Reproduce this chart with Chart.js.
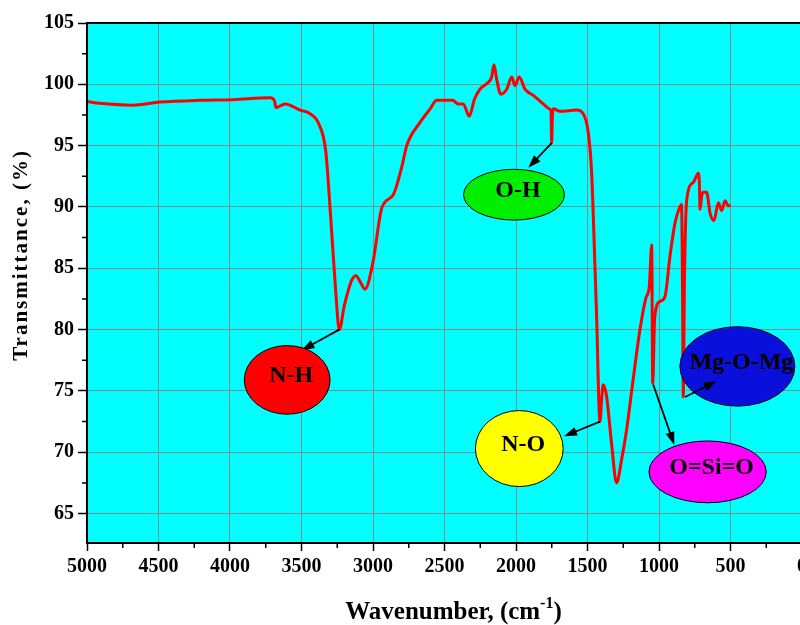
<!DOCTYPE html>
<html>
<head>
<meta charset="utf-8">
<script src="https://cdn.jsdelivr.net/npm/chart.js@4.4.1/dist/chart.umd.min.js"></script>
<style>
  html, body { margin: 0; padding: 0; background: #fff; overflow: hidden; }
  #ftir { display: block; }
</style>
</head>
<body>
<canvas id="ftir" width="830" height="625"></canvas>
<script>
// FTIR spectrum - wavenumber (cm-1) vs transmittance (%)
const wavenumber = [5000,4910,4680,4490,4210,3980,3720,3690,3678,3615,3510,3440,3380,3330,3295,3260,3236,3200,3150,3119,3085,3056,3000,2939,2858,2800,2764,2671,2600,2555,2485,2443,2404,2369,2327,2290,2252,2200,2170,2154,2135,2107,2065,2030,2007,1977,1937,1879,1809,1767,1755,1751,1745,1739,1692,1576,1530,1495,1471,1448,1437,1413,1400,1390,1367,1330,1297,1260,1227,1180,1133,1091,1068,1051,1044,1030,993,958,923,888,858,842,836,830,822,806,760,725,718,713,700,690,667,643,615,585,562,538,515,499];
const transmittance = [98.6,98.45,98.3,98.55,98.7,98.75,98.9,98.7,98.1,98.4,97.9,97.6,96.8,94.5,89.0,83.0,80.0,82.0,84.0,84.4,83.8,83.3,85.5,89.9,91.0,93.2,95.0,96.9,98.0,98.7,98.7,98.7,98.4,98.4,97.4,98.8,99.6,100.1,100.6,101.6,100.4,99.2,99.6,100.6,99.9,100.6,99.6,99.1,98.4,98.0,97.8,95.2,97.6,98.0,97.8,97.9,97.6,96.1,92.8,85.2,81.4,72.5,74.5,75.5,74.6,70.5,67.5,69.5,71.8,76.0,80.0,82.6,83.5,86.9,75.6,81.0,82.3,82.7,86.0,88.7,89.9,90.2,84.0,74.5,84.0,90.6,92.0,92.75,92.0,89.8,91.0,91.2,91.2,89.5,88.9,90.35,89.7,90.5,90.1,90.1];
const yTicks = [65, 70, 75, 80, 85, 90, 95, 100, 105];

// band labels (ellipse centre, radii in axis units, arrow from peak to ellipse)
const bandNames = ['N-H', 'O-H', 'N-O', 'O=Si=O', 'Mg-O-Mg'];
const bandColors = ['#ff0000', '#00ee00', '#ffff00', '#ff00ff', '#0a10dc'];
const bandAt = [[3600, 75.9], [2014, 91.0], [1977, 70.3], [660, 68.4], [452, 77.0]];
const bandRadius = [[300, 2.8], [353, 2.07], [307, 3.1], [410, 2.52], [402, 3.24]];
const arrowFrom = [[3236, 80.0], [1751, 95.2], [1413, 72.5], [1040, 75.5], [818, 74.5]];
const arrowTo = [[3500, 78.3], [1914, 93.2], [1664, 71.3], [893, 70.6], [597, 75.8]];

const serif = '"Liberation Serif", "Times New Roman", serif';

function arrow(ctx, x0, y0, x1, y1) {
  const ang = Math.atan2(y1 - y0, x1 - x0);
  ctx.beginPath();
  ctx.moveTo(x0, y0);
  ctx.lineTo(x1 - 8 * Math.cos(ang), y1 - 8 * Math.sin(ang));
  ctx.stroke();
  ctx.beginPath();
  ctx.moveTo(x1, y1);
  ctx.lineTo(x1 - 13 * Math.cos(ang) + 4.5 * Math.sin(ang), y1 - 13 * Math.sin(ang) - 4.5 * Math.cos(ang));
  ctx.lineTo(x1 - 13 * Math.cos(ang) - 4.5 * Math.sin(ang), y1 - 13 * Math.sin(ang) + 4.5 * Math.cos(ang));
  ctx.closePath();
  ctx.fill();
}

const decor = {
  id: 'decor',
  beforeDraw(chart) {
    const a = chart.chartArea, ctx = chart.ctx;
    ctx.save();
    ctx.fillStyle = '#00ffff';
    ctx.fillRect(a.left, a.top, a.right - a.left, a.bottom - a.top);
    ctx.restore();
  },
  afterDraw(chart) {
    const a = chart.chartArea, ctx = chart.ctx;
    const xs = chart.scales.x, ys = chart.scales.y;
    ctx.save();
    // frame
    ctx.strokeStyle = '#000';
    ctx.lineWidth = 2;
    ctx.strokeRect(a.left, a.top, a.right - a.left, a.bottom - a.top);
    // minor ticks
    ctx.lineWidth = 1.5;
    ctx.beginPath();
    for (let v = 67.5; v < 105; v += 5) {
      const py = ys.getPixelForValue(v);
      ctx.moveTo(a.left - 5, py); ctx.lineTo(a.left, py);
    }
    for (let v = 250; v < 5000; v += 500) {
      const px = xs.getPixelForValue(v);
      ctx.moveTo(px, a.bottom); ctx.lineTo(px, a.bottom + 5);
    }
    ctx.stroke();

    ctx.lineWidth = 1.8;
    ctx.fillStyle = '#000';
    const px = p => [xs.getPixelForValue(p[0]), ys.getPixelForValue(p[1])];
    for (let i = 0; i < 4; i++) {
      const [x0, y0] = px(arrowFrom[i]), [x1, y1] = px(arrowTo[i]);
      arrow(ctx, x0, y0, x1, y1);
    }

    // ellipses + labels
    for (let i = 0; i < bandNames.length; i++) {
      const [cx, cy] = px(bandAt[i]);
      const rx = Math.abs(xs.getPixelForValue(bandAt[i][0] + bandRadius[i][0]) - cx);
      const ry = Math.abs(ys.getPixelForValue(bandAt[i][1] + bandRadius[i][1]) - cy);
      ctx.beginPath();
      ctx.ellipse(cx, cy, rx, ry, 0, 0, Math.PI * 2);
      ctx.fillStyle = bandColors[i];
      ctx.fill();
      ctx.lineWidth = 1;
      ctx.strokeStyle = '#000';
      ctx.stroke();
      ctx.fillStyle = '#000';
      ctx.font = 'bold 24px ' + serif;
      ctx.textAlign = 'center';
      ctx.textBaseline = 'middle';
      ctx.fillText(bandNames[i], cx + 4, cy - 4);
    }
    // Mg-O-Mg arrow sits on top of its ellipse
    ctx.lineWidth = 1.8;
    {
      const [x0, y0] = px(arrowFrom[4]), [x1, y1] = px(arrowTo[4]);
      arrow(ctx, x0, y0, x1, y1);
    }

    // x axis title with superscript
    ctx.fillStyle = '#000';
    ctx.textBaseline = 'alphabetic';
    ctx.textAlign = 'left';
    const big = 'bold 25px ' + serif, small = 'bold 16px ' + serif;
    const t1 = 'Wavenumber, (cm', t2 = '-1', t3 = ')';
    ctx.font = big; const w1 = ctx.measureText(t1).width, w3 = ctx.measureText(t3).width;
    ctx.font = small; const w2 = ctx.measureText(t2).width;
    let tx = (a.left + a.right) / 2 + 9 - (w1 + w2 + w3) / 2;
    const ty = 619;
    ctx.font = big; ctx.fillText(t1, tx, ty); tx += w1;
    ctx.font = small; ctx.fillText(t2, tx, ty - 11); tx += w2;
    ctx.font = big; ctx.fillText(t3, tx, ty);

    // y axis title
    ctx.translate(22, 255);
    ctx.rotate(-Math.PI / 2);
    ctx.font = 'bold 21px ' + serif;
    ctx.letterSpacing = '2px';
    ctx.textAlign = 'center';
    ctx.textBaseline = 'middle';
    ctx.fillText('Transmittance, (%)', 0, 0);
    ctx.restore();
  }
};

new Chart(document.getElementById('ftir'), {
  type: 'line',
  data: {
    datasets: [{
      data: wavenumber.map((w, i) => ({ x: w, y: transmittance[i] })),
      borderColor: '#ff0000',
      borderWidth: 3,
      pointRadius: 0,
      fill: false,
      cubicInterpolationMode: 'monotone'
    }]
  },
  options: {
    responsive: false,
    animation: false,
    layout: { padding: { top: 23, right: 28, left: 0, bottom: 0 } },
    plugins: { legend: { display: false }, tooltip: { enabled: false } },
    scales: {
      x: {
        type: 'linear',
        reverse: true,
        min: 0,
        max: 5000,
        afterFit: s => { s.height = 82; },
        ticks: {
          stepSize: 500,
          padding: 4,
          color: '#000',
          font: { family: serif, size: 20, weight: 'bold' },
          callback: v => String(v)
        },
        grid: { color: '#888888', lineWidth: 1, tickColor: '#000', tickLength: 8, tickWidth: 1.5 },
        border: { color: '#000', width: 2 }
      },
      y: {
        min: 62.6,
        max: 105,
        afterFit: s => { s.width = 87; },
        afterBuildTicks: s => { s.ticks = yTicks.map(v => ({ value: v })); },
        ticks: {
          padding: 4,
          color: '#000',
          font: { family: serif, size: 20, weight: 'bold' }
        },
        grid: { color: '#888888', lineWidth: 1, tickColor: '#000', tickLength: 9, tickWidth: 1.5 },
        border: { color: '#000', width: 2 }
      }
    }
  },
  plugins: [decor]
});
</script>
</body>
</html>
